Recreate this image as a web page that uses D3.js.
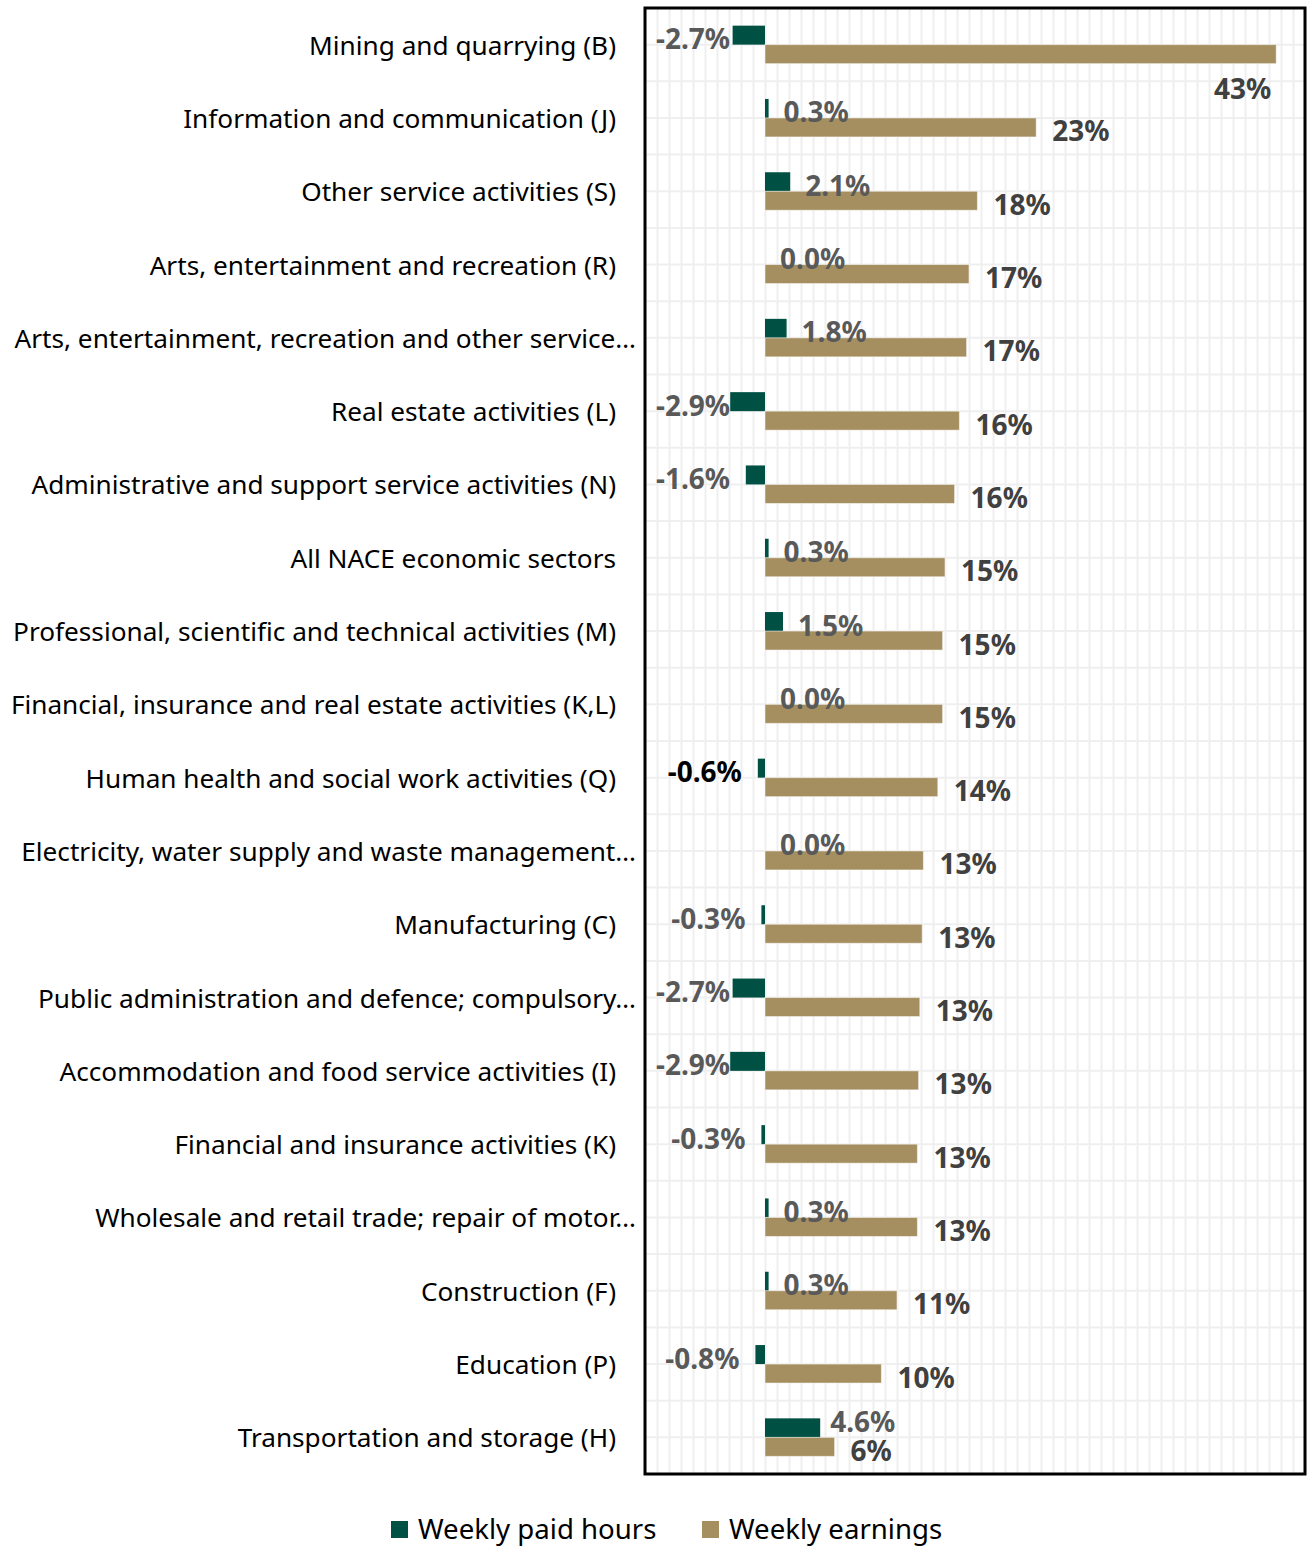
<!DOCTYPE html>
<html>
<head>
<meta charset="utf-8">
<script src="https://cdn.jsdelivr.net/npm/d3@7"></script>
<style>
  html, body { margin: 0; padding: 0; background: #ffffff; }
  svg { display: block; }
</style>
</head>
<body>
<svg id="chart" width="1309" height="1546"></svg>
<script>
// Sectors, ordered by growth in weekly earnings
const categories = [
  "Mining and quarrying (B)",
  "Information and communication (J)",
  "Other service activities (S)",
  "Arts, entertainment and recreation (R)",
  "Arts, entertainment, recreation and other service…",
  "Real estate activities (L)",
  "Administrative and support service activities (N)",
  "All NACE economic sectors",
  "Professional, scientific and technical activities (M)",
  "Financial, insurance and real estate activities (K,L)",
  "Human health and social work activities (Q)",
  "Electricity, water supply and waste management…",
  "Manufacturing (C)",
  "Public administration and defence; compulsory…",
  "Accommodation and food service activities (I)",
  "Financial and insurance activities (K)",
  "Wholesale and retail trade; repair of motor…",
  "Construction (F)",
  "Education (P)",
  "Transportation and storage (H)"
];

// Change in weekly paid hours (%)
const hoursChange = [-2.7, 0.3, 2.1, 0.0, 1.8, -2.9, -1.6, 0.3, 1.5, 0.0,
                     -0.6, 0.0, -0.3, -2.7, -2.9, -0.3, 0.3, 0.3, -0.8, 4.6];

// Change in weekly earnings (%)
const earningsChange = [42.6, 22.6, 17.7, 17.0, 16.8, 16.2, 15.8, 15.0, 14.8, 14.8,
                        14.4, 13.2, 13.1, 12.9, 12.8, 12.7, 12.7, 11.0, 9.7, 5.8];

const seriesNames = ["Weekly paid hours", "Weekly earnings"];
const axisDomain = [-10, 45];

const colors = { hours: "#005143", earnings: "#a58f60" };
const font = "'Noto Sans', 'Open Sans', sans-serif";

const svg = d3.select("#chart");
const plot = { left: 645, right: 1305, top: 8, bottom: 1474 };

const x = d3.scaleLinear().domain(axisDomain).range([plot.left, plot.right]);
const y = d3.scaleBand().domain(categories).range([plot.top, plot.bottom]);
const step = y.step();
const barH = 19;

// Light grid: one vertical line per percentage point
const grid = svg.append("g");
const gx = grid.append("g")
  .attr("transform", `translate(0,${plot.bottom})`)
  .call(d3.axisBottom(x)
    .tickValues(d3.range(axisDomain[0], axisDomain[1] + 1))
    .tickSize(-(plot.bottom - plot.top))
    .tickFormat(""));
gx.select(".domain").remove();
gx.selectAll(".tick line").attr("stroke", "#efefef").attr("stroke-width", 2);

// Horizontal grid at every half band
const halfRows = d3.range(0, categories.length * 2 + 1);
const yHalf = d3.scaleLinear().domain([0, categories.length * 2]).range([plot.top, plot.bottom]);
grid.selectAll("line.h").data(halfRows).join("line")
  .attr("class", "h")
  .attr("x1", plot.left).attr("x2", plot.right)
  .attr("y1", d => yHalf(d)).attr("y2", d => yHalf(d))
  .attr("stroke", "#efefef").attr("stroke-width", 2);

const rows = categories.map((c, i) => ({ cat: c, hours: hoursChange[i], earnings: earningsChange[i] }));
const mid = d => y(d.cat) + step / 2;

// Bars
svg.append("g").selectAll("rect").data(rows).join("rect")
  .attr("x", d => x(Math.min(0, d.hours)))
  .attr("width", d => Math.abs(x(d.hours) - x(0)))
  .attr("y", d => mid(d) - barH)
  .attr("height", barH)
  .attr("fill", colors.hours);

svg.append("g").selectAll("rect").data(rows).join("rect")
  .attr("x", x(0))
  .attr("width", d => x(d.earnings) - x(0))
  .attr("y", d => mid(d))
  .attr("height", barH)
  .attr("fill", colors.earnings)
  .attr("stroke", "#ffffff").attr("stroke-opacity", 0.5).attr("stroke-width", 1);

// Category labels
svg.append("g").selectAll("text").data(rows).join("text")
  .attr("x", d => d.cat.endsWith("…") ? 636 : 616)
  .attr("y", d => mid(d))
  .attr("text-anchor", "end")
  .attr("dominant-baseline", "central")
  .attr("font-family", font)
  .attr("font-size", 26.2)
  .attr("fill", "#000000")
  .text(d => d.cat);

// Earnings labels
const fmtEarn = v => Math.round(v) + "%";
const earnBoxes = [];
const earnLabels = svg.append("g").selectAll("text").data(rows).join("text")
  .attr("dominant-baseline", "central")
  .attr("font-family", font)
  .attr("font-size", 28)
  .attr("font-weight", "bold")
  .attr("fill", "#404040")
  .text(d => fmtEarn(d.earnings));

earnLabels.each(function (d, i) {
  const t = d3.select(this);
  const w = this.getComputedTextLength();
  const start = x(d.earnings) + 16;
  if (start + w > plot.right - 10) {
    const cy = mid(d) + barH / 2 + 34;
    t.attr("x", x(d.earnings) - 5).attr("text-anchor", "end").attr("y", cy);
    earnBoxes[i] = { x0: x(d.earnings) - 5 - w, x1: x(d.earnings) - 5, cy };
  } else {
    const cy = mid(d) + barH / 2 + 3;
    t.attr("x", start).attr("text-anchor", "start").attr("y", cy);
    earnBoxes[i] = { x0: start, x1: start + w, cy };
  }
});

// Hours labels, nudged up when they would collide with the earnings label
const fmtHours = v => v.toFixed(1) + "%";
const hoursLabels = svg.append("g").selectAll("text").data(rows).join("text")
  .attr("dominant-baseline", "central")
  .attr("font-family", font)
  .attr("font-size", 28)
  .attr("font-weight", "bold")
  .attr("fill", d => d.cat.startsWith("Human health") ? "#000000" : "#595959")
  .text(d => fmtHours(d.hours));

hoursLabels.each(function (d, i) {
  const t = d3.select(this);
  const w = this.getComputedTextLength();
  let cy = mid(d) - barH / 2 + 3;
  if (d.hours < 0) {
    let end = x(d.hours) - 16;
    if (end - w < plot.left + 11) end = plot.left + 11 + w;
    t.attr("x", end).attr("text-anchor", "end");
  } else {
    let start = x(d.hours) + 15;
    const eb = earnBoxes[i];
    if (start < eb.x1 && start + w > eb.x0 && Math.abs(eb.cy - cy) < 24) {
      start = x(d.hours) + 10;
      cy -= 10;
    }
    t.attr("x", start).attr("text-anchor", "start");
  }
  t.attr("y", cy);
});

// Plot frame
svg.append("rect")
  .attr("x", plot.left).attr("y", plot.top)
  .attr("width", plot.right - plot.left).attr("height", plot.bottom - plot.top)
  .attr("fill", "none").attr("stroke", "#000000").attr("stroke-width", 3);

// Legend
const legend = svg.append("g").attr("font-family", font).attr("font-size", 27.6);
const legendItems = [
  { name: seriesNames[0], color: colors.hours, x: 391 },
  { name: seriesNames[1], color: colors.earnings, x: 702 }
];
legendItems.forEach(it => {
  legend.append("rect").attr("x", it.x).attr("y", 1521).attr("width", 17).attr("height", 17).attr("fill", it.color);
  legend.append("text").attr("x", it.x + 27).attr("y", 1528).attr("dominant-baseline", "central")
    .attr("fill", "#000000").text(it.name);
});
</script>
</body>
</html>
